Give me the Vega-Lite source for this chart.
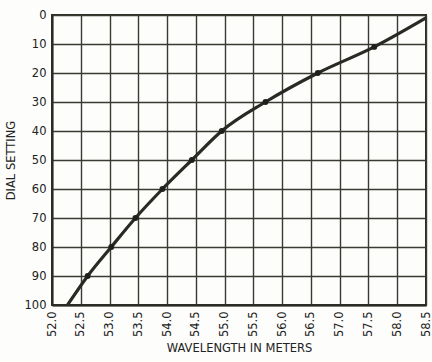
{
  "$schema": "https://vega.github.io/schema/vega-lite/v6.json",
  "width": 374,
  "height": 290,
  "autosize": {"type": "none"},
  "padding": {"left": 52, "top": 15, "right": 6, "bottom": 57},
  "background": "#fdfdfb",
  "config": {
    "font": "DejaVu Sans",
    "view": {"stroke": "#2b2b26", "strokeWidth": 2},
    "axis": {
      "gridColor": "#3a3a33",
      "gridWidth": 1.4,
      "gridOpacity": 1,
      "domainColor": "#2b2b26",
      "domainWidth": 2,
      "ticks": false,
      "labelColor": "#222",
      "titleColor": "#222",
      "labelFontSize": 11.5,
      "titleFontSize": 11.5,
      "titleFontWeight": "normal"
    }
  },
  "data": {
    "values": [
      {"wl": 52.27, "dial": 100, "dot": false},
      {"wl": 52.62, "dial": 90, "dot": true},
      {"wl": 53.03, "dial": 80, "dot": true},
      {"wl": 53.45, "dial": 70, "dot": true},
      {"wl": 53.92, "dial": 60, "dot": true},
      {"wl": 54.43, "dial": 50, "dot": true},
      {"wl": 54.95, "dial": 40, "dot": true},
      {"wl": 55.71, "dial": 30, "dot": true},
      {"wl": 56.62, "dial": 20, "dot": true},
      {"wl": 57.6, "dial": 11, "dot": true},
      {"wl": 58.5, "dial": 1, "dot": false}
    ]
  },
  "encoding": {
    "x": {
      "field": "wl", "type": "quantitative",
      "scale": {"domain": [52, 58.5], "nice": false, "zero": false},
      "axis": {
        "values": [52, 52.5, 53, 53.5, 54, 54.5, 55, 55.5, 56, 56.5, 57, 57.5, 58, 58.5],
        "format": ".1f",
        "labelAngle": -90,
        "labelPadding": 6,
        "title": "WAVELENGTH IN METERS",
        "titlePadding": 6
      }
    },
    "y": {
      "field": "dial", "type": "quantitative",
      "scale": {"domain": [0, 100], "reverse": true, "nice": false},
      "axis": {
        "values": [0, 10, 20, 30, 40, 50, 60, 70, 80, 90, 100],
        "labelPadding": 6,
        "title": "DIAL SETTING",
        "titlePadding": 8
      }
    }
  },
  "layer": [
    {
      "mark": {"type": "line", "interpolate": "monotone", "color": "#2a2a25", "strokeWidth": 3.2}
    },
    {
      "transform": [{"filter": "datum.dot"}],
      "mark": {"type": "point", "filled": true, "color": "#1f1f1b", "size": 35, "opacity": 1}
    }
  ]
}
